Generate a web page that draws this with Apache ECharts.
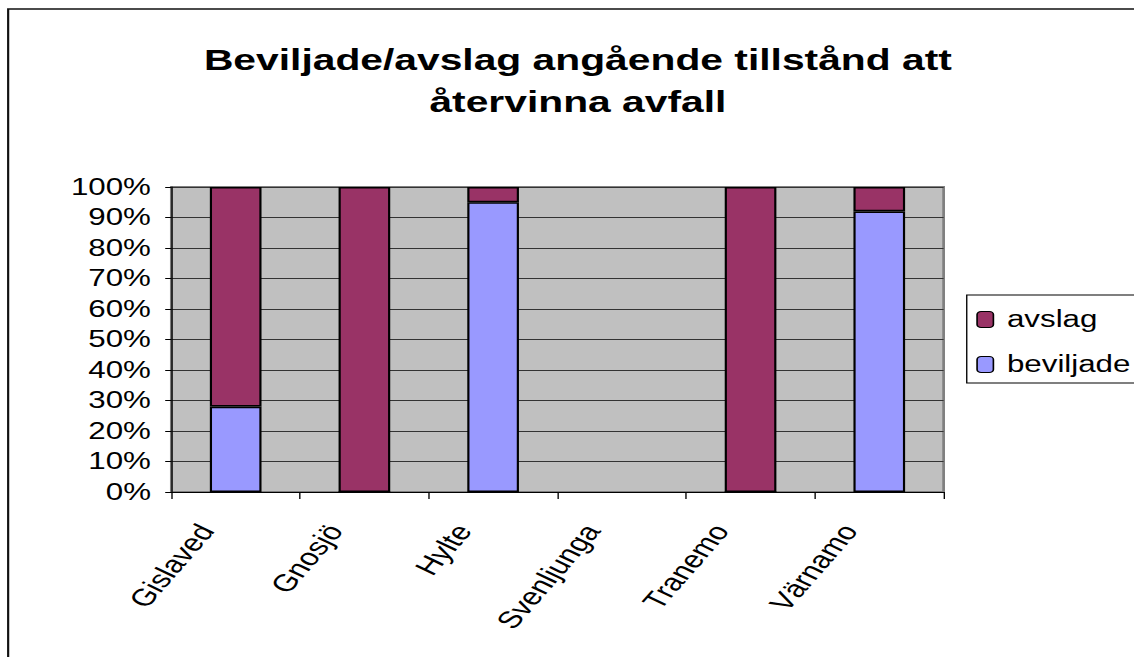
<!DOCTYPE html>
<html>
<head>
<meta charset="utf-8">
<script src="https://cdn.jsdelivr.net/npm/echarts@6/dist/echarts.min.js"></script>
<style>
    html, body { margin: 0; padding: 0; background: #fff; overflow: hidden; }
    /* the original text is stretched sideways, so the chart is drawn narrow and widened */
    #chart { width: 834px; height: 657px; transform: scaleX(1.3597); transform-origin: 0 0; }
</style>
</head>
<body>
<div id="chart"></div>
<script>
    // kommuner och andelar (procent)
    var categories = ['Gislaved', 'Gnosjö', 'Hylte', 'Svenljunga', 'Tranemo', 'Värnamo']
    var beviljade = [28, 0, 95, null, 0, 92]
    var avslag = [72, 100, 5, null, 100, 8]
    var legendNames = ['avslag', 'beviljade']

    var font = 'Liberation Sans, Arial, sans-serif'
    var myChart = echarts.init(document.getElementById('chart'), null, {renderer: 'svg'})
    var option = {
        animation: false,
        backgroundColor: '#fff',
        textStyle: {fontFamily: font, color: '#000'},
        title: {
            text: 'Beviljade/avslag angående tillstånd att\nåtervinna avfall',
            left: 420,
            top: 34,
            textAlign: 'center',
            textStyle: {
                fontFamily: font,
                fontSize: 30,
                fontWeight: 'bold',
                lineHeight: 42,
                color: '#000'
            }
        },
        graphic: [{
            type: 'rect',
            shape: {x: 6, y: 9, width: 1000, height: 800},
            style: {fill: 'none', stroke: '#111', lineWidth: 1.6},
            silent: true
        }],
        legend: {
            data: legendNames,
            orient: 'vertical',
            left: 711,
            top: 295,
            padding: [12, 8, 6, 7],
            itemGap: 20,
            itemWidth: 12,
            itemHeight: 16,
            borderColor: '#000',
            borderWidth: 1,
            itemStyle: {borderWidth: 1.2, borderColor: '#000'},
            textStyle: {fontFamily: font, fontSize: 23, lineHeight: 25, color: '#000', padding: [0, 0, 0, 5]}
        },
        grid: {
            left: 126,
            right: 140,
            top: 187,
            bottom: 165,
            show: true,
            backgroundColor: '#C0C0C0',
            borderColor: '#808080',
            borderWidth: 2
        },
        xAxis: {
            type: 'category',
            data: categories,
            axisLine: {lineStyle: {color: '#000', width: 1}},
            axisTick: {show: true, length: 7, inside: false, lineStyle: {color: '#000'}},
            axisLabel: {
                rotate: 57,
                margin: 1,
                padding: [0, 40, 0, 0],
                fontSize: 24,
                fontFamily: font,
                color: '#000'
            }
        },
        yAxis: {
            type: 'value',
            min: 0,
            max: 100,
            interval: 10,
            axisLine: {show: true, lineStyle: {color: '#000', width: 1}},
            axisTick: {show: true, length: 4.5, lineStyle: {color: '#000'}},
            axisLabel: {
                formatter: '{value}%',
                fontSize: 23,
                fontFamily: font,
                color: '#000',
                margin: 15
            },
            splitLine: {show: true, lineStyle: {color: '#333', width: 1}}
        },
        series: [
            {
                name: 'beviljade',
                type: 'bar',
                stack: 'total',
                barWidth: 38,
                data: beviljade,
                itemStyle: {color: '#9999FF', borderColor: '#000', borderWidth: 1.6}
            },
            {
                name: 'avslag',
                type: 'bar',
                stack: 'total',
                barWidth: 38,
                data: avslag,
                itemStyle: {color: '#993366', borderColor: '#000', borderWidth: 1.6}
            }
        ]
    }
    myChart.setOption(option)
</script>
</body>
</html>
